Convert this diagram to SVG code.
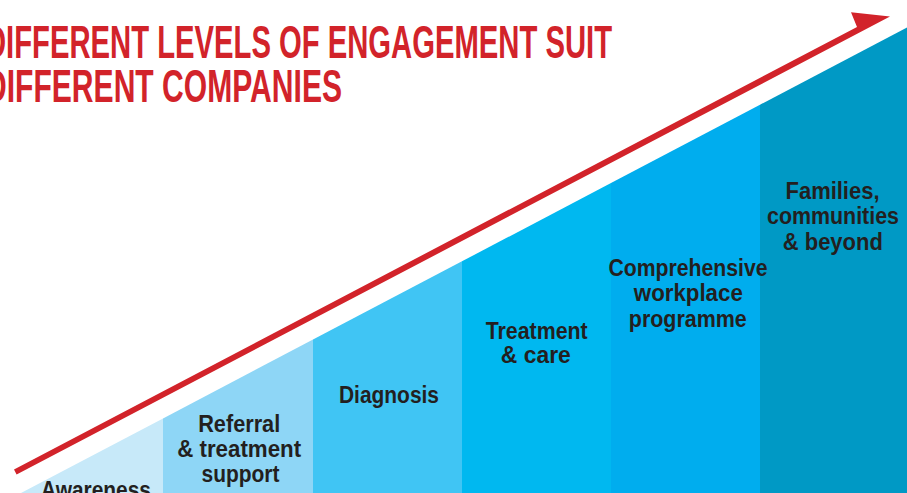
<svg xmlns="http://www.w3.org/2000/svg" width="907" height="493" viewBox="0 0 907 493">
  <style>
    .title { font-family: "Liberation Sans Narrow", "Liberation Sans", Arial, sans-serif; font-weight: bold; font-size: 46.5px; fill: #D2232A; }
    .lbl { font-family: "Liberation Sans Narrow", "Liberation Sans", Arial, sans-serif; font-weight: bold; font-size: 23px; fill: #231F20; text-anchor: middle; }
  </style>
  <rect width="907" height="493" fill="#FFFFFF"/>
  <g id="title">
    <text class="title" x="-15" y="57.7" textLength="627" lengthAdjust="spacingAndGlyphs">DIFFERENT LEVELS OF ENGAGEMENT SUIT</text>
    <text class="title" x="-15" y="102.3" textLength="357" lengthAdjust="spacingAndGlyphs">DIFFERENT COMPANIES</text>
  </g>
  <g id="awareness">
    <polygon points="21,493 163,418.4 163,493" fill="#C7E9F9"/>
    <text class="lbl" x="96" y="498.4" textLength="110" lengthAdjust="spacingAndGlyphs">Awareness</text>
  </g>
  <g id="referral">
    <polygon points="163,418.4 313,339.6 313,493 163,493" fill="#8ED6F6"/>
    <text class="lbl" x="239.2" y="431.7" textLength="82" lengthAdjust="spacingAndGlyphs">Referral</text>
    <text class="lbl" x="239.2" y="456.7" textLength="124" lengthAdjust="spacingAndGlyphs">&amp; treatment</text>
    <text class="lbl" x="240.5" y="481.7" textLength="78" lengthAdjust="spacingAndGlyphs">support</text>
  </g>
  <g id="diagnosis">
    <polygon points="313,339.6 462,261.3 462,493 313,493" fill="#40C5F4"/>
    <text class="lbl" x="389" y="402.7" textLength="100" lengthAdjust="spacingAndGlyphs">Diagnosis</text>
  </g>
  <g id="treatment">
    <polygon points="462,261.3 611,183 611,493 462,493" fill="#00B8F0"/>
    <text class="lbl" x="536.7" y="339" textLength="102" lengthAdjust="spacingAndGlyphs">Treatment</text>
    <text class="lbl" x="535.8" y="363.3" textLength="70" lengthAdjust="spacingAndGlyphs">&amp; care</text>
  </g>
  <g id="families">
    <polygon points="760,104.7 907,27.4 907,493 760,493" fill="#0099C5"/>
    <text class="lbl" x="832.5" y="199" textLength="94" lengthAdjust="spacingAndGlyphs">Families,</text>
    <text class="lbl" x="833" y="224" textLength="132" lengthAdjust="spacingAndGlyphs">communities</text>
    <text class="lbl" x="832.8" y="250" textLength="100" lengthAdjust="spacingAndGlyphs">&amp; beyond</text>
  </g>
  <g id="workplace">
    <polygon points="611,183 760,104.7 760,493 611,493" fill="#00ADEE"/>
    <text class="lbl" x="688" y="275.7" textLength="159" lengthAdjust="spacingAndGlyphs">Comprehensive</text>
    <text class="lbl" x="688.3" y="301" textLength="109" lengthAdjust="spacingAndGlyphs">workplace</text>
    <text class="lbl" x="687.8" y="326.5" textLength="118" lengthAdjust="spacingAndGlyphs">programme</text>
  </g>
  <g id="connectors">
    <polygon points="14,469.5 857,26.9 851,12.3 890,16.6 16.6,474.5" fill="#D2232A"/>
  </g>
</svg>
